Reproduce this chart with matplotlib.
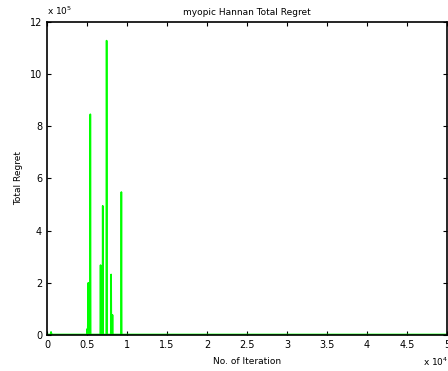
import matplotlib
matplotlib.use("Agg")
import matplotlib.pyplot as plt
from matplotlib.ticker import FuncFormatter
import numpy as np

# iteration / total regret samples (spikes, baseline near zero)
iteration = [0, 450, 500, 560, 620, 5000, 5040, 5080, 5160, 5200, 5380, 5410, 5450,
             6650, 6690, 6730, 6930, 6960, 7000, 7400, 7430, 7460, 7500, 7540,
             7980, 8010, 8040, 8150, 8180, 8210, 9250, 9290, 9330, 50000]
regret = [2000, 2000, 12000, 4000, 2000, 2000, 24000, 2000, 200000, 2000, 2000, 846000, 2000,
          2000, 268000, 2000, 2000, 495000, 2000, 2000, 1128000, 1128000, 2000, 2000,
          2000, 232000, 2000, 2000, 77000, 2000, 2000, 548000, 2000, 2000]

xticks = [0, 5000, 10000, 15000, 20000, 25000, 30000, 35000, 40000, 45000, 50000]
yticks = [0, 200000, 400000, 600000, 800000, 1000000, 1200000]

fig = plt.figure(figsize=(4.48, 3.71), dpi=100)
ax = fig.add_axes([0.105, 0.097, 0.893, 0.844])

ax.plot(iteration, regret, color="#00ff00", linewidth=1.2)

ax.set_xlim(0, 50000)
ax.set_ylim(0, 1200000)
ax.set_xticks(xticks)
ax.set_yticks(yticks)
ax.xaxis.set_major_formatter(FuncFormatter(lambda v, p: "%g" % (v / 1e4)))
ax.yaxis.set_major_formatter(FuncFormatter(lambda v, p: "%g" % (v / 1e5)))
ax.tick_params(direction="in", top=True, right=True, labelsize=7, length=3, width=0.8)
for s in ax.spines.values():
    s.set_linewidth(1.2)

ax.set_title("myopic Hannan Total Regret", fontsize=6.5, pad=5)
ax.set_xlabel("No. of Iteration", fontsize=6.5, labelpad=5)
ax.set_ylabel("Total Regret", fontsize=6.5, labelpad=5)

ax.text(0.0, 1.015, r"x 10$^5$", transform=ax.transAxes, fontsize=6.5, ha="left", va="bottom")
ax.text(0.94, -0.065, r"x 10$^4$", transform=ax.transAxes, fontsize=6.5, ha="left", va="top")

plt.savefig("out.png", dpi=100)
plt.close(fig)
